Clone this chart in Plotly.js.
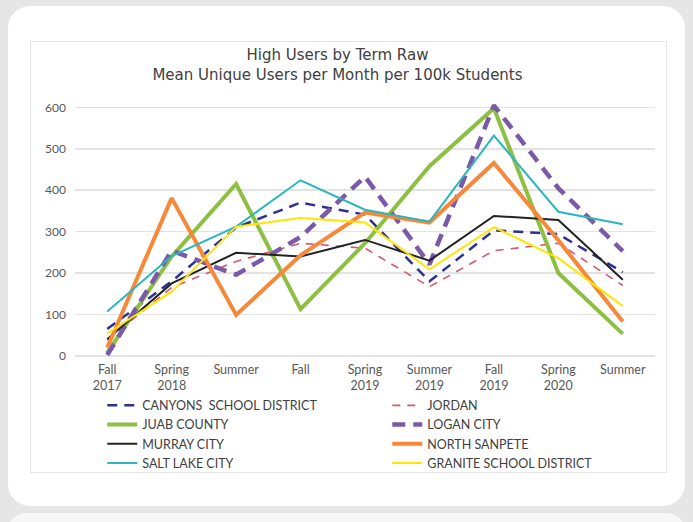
<!DOCTYPE html>
<html>
<head>
<meta charset="utf-8">
<script src="https://cdn.plot.ly/plotly-3.0.1.min.js"></script>
<style>
  html, body { margin: 0; padding: 0; background: #e6e6e6; }
  #wrap { position: relative; width: 693px; height: 522px; overflow: hidden; background: #e6e6e6; }
  #card { position: absolute; left: 8px; top: 6px; width: 677px; height: 500px; background: #ffffff; border-radius: 22px; }
  #card2 { position: absolute; left: 8px; top: 513px; width: 677px; height: 60px; background: #f7f7f7; border-radius: 18px; }
  #box { position: absolute; left: 30px; top: 41px; width: 635px; height: 430px; border: 1px solid #e6e6e6; background: #fff; }
  #chart { position: absolute; left: 0; top: 0; width: 693px; height: 522px; }
</style>
</head>
<body>
<div id="wrap">
  <div id="card"></div>
  <div id="card2"></div>
  <div id="box"></div>
  <div id="chart"></div>
</div>
<script>
// Categories (terms) and their tick labels
const terms = ["Fall 2017", "Spring 2018", "Summer 2018", "Fall 2018", "Spring 2019", "Summer 2019", "Fall 2019", "Spring 2020", "Summer 2020"];
const tickLabels = ["Fall<br>2017", "Spring<br>2018", "Summer", "Fall", "Spring<br>2019", "Summer<br>2019", "Fall<br>2019", "Spring<br>2020", "Summer"];

// Series values (mean unique users per month per 100k students)
const canyons      = [65, 180, 310, 370, 341, 180, 303, 294, 202];
const jordan       = [38, 165, 228, 272, 260, 167, 254, 272, 170];
const juab         = [7, 240, 415, 113, 272, 458, 598, 200, 53];
const logan        = [2, 254, 196, 287, 433, 221, 605, 405, 253];
const murray       = [40, 175, 249, 240, 280, 230, 338, 328, 184];
const northSanpete = [20, 381, 99, 243, 346, 322, 466, 279, 83];
const saltLake     = [107, 241, 312, 424, 353, 324, 532, 348, 318];
const granite      = [54, 155, 312, 333, 322, 209, 311, 236, 120];

const seriesNames = ["CANYONS\u00a0 SCHOOL DISTRICT", "JORDAN", "JUAB COUNTY", "LOGAN CITY", "MURRAY CITY", "NORTH SANPETE", "SALT LAKE CITY", "GRANITE SCHOOL DISTRICT"];

const styles = [
  {color: "#2e3192", width: 2.5, dash: "10px,7px"},
  {color: "#d8566f", width: 1.6, dash: "8px,7px"},
  {color: "#8dbf42", width: 4, dash: "solid"},
  {color: "#7a5aa8", width: 4.5, dash: "13px,8px"},
  {color: "#222222", width: 2, dash: "solid"},
  {color: "#f7883a", width: 4, dash: "solid"},
  {color: "#2ab6bd", width: 2, dash: "solid"},
  {color: "#ffe500", width: 2, dash: "solid"}
];
const seriesValues = [canyons, jordan, juab, logan, murray, northSanpete, saltLake, granite];

const traces = seriesValues.map((vals, i) => ({
  type: "scatter",
  mode: "lines",
  name: seriesNames[i],
  x: terms,
  y: vals,
  line: {color: styles[i].color, width: styles[i].width, dash: styles[i].dash},
  hoverinfo: "x+y+name"
}));

const font = "Lato, 'Open Sans', sans-serif";
const titleFont = "'DejaVu Sans', Lato, sans-serif";

const layout = {
  width: 693,
  height: 522,
  paper_bgcolor: "rgba(0,0,0,0)",
  plot_bgcolor: "rgba(0,0,0,0)",
  margin: {l: 75, r: 38, t: 95.3, b: 161.9, pad: 0},
  font: {family: font, color: "#595959", size: 12},
  title: {
    text: "High Users by Term Raw<br>Mean Unique Users per Month per 100k Students",
    font: {family: titleFont, size: 15, color: "#404040"},
    xref: "container", x: 0.487, xanchor: "center",
    yref: "container", y: 0.885, yanchor: "top"
  },
  xaxis: {
    type: "category",
    range: [-0.5, 8.5],
    tickvals: terms,
    ticktext: tickLabels,
    showgrid: false,
    zeroline: false,
    showline: false,
    ticks: "",
    tickfont: {family: font, size: 12.5, color: "#595959"},
    ticklabelstandoff: 0
  },
  yaxis: {
    range: [-10, 630],
    tickvals: [0, 100, 200, 300, 400, 500, 600],
    showgrid: true,
    gridcolor: "#e3e3e3",
    gridwidth: 1.5,
    zeroline: false,
    showline: false,
    ticks: "",
    tickfont: {family: font, size: 12, color: "#595959"},
    ticklabelstandoff: 8
  },
  showlegend: true,
  legend: {
    orientation: "h",
    x: 0.047, xanchor: "left",
    y: -0.116, yanchor: "top",
    entrywidth: 240,
    entrywidthmode: "pixels",
    traceorder: "normal",
    font: {family: font, size: 12.5, color: "#404040"},
    bgcolor: "rgba(0,0,0,0)",
    borderwidth: 0
  }
};

Plotly.newPlot("chart", traces, layout, {displayModeBar: false, staticPlot: true});
</script>
</body>
</html>
